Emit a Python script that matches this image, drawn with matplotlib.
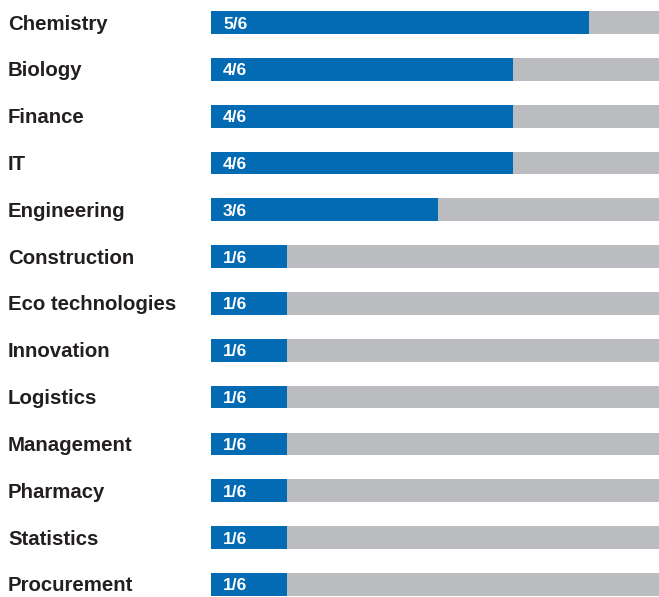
import matplotlib
matplotlib.use("Agg")
import matplotlib.pyplot as plt
from matplotlib import transforms

categories = ["Chemistry", "Biology", "Finance", "IT", "Engineering", "Construction",
              "Eco technologies", "Innovation", "Logistics", "Management", "Pharmacy",
              "Statistics", "Procurement"]
values = [5, 4, 4, 4, 3, 1, 1, 1, 1, 1, 1, 1, 1]
total = 6
value_labels = [f"{v}/{total}" for v in values]

BLUE = "#036ab4"
GREY = "#bbbcc0"
TEXT = "#231f20"

plt.rcParams['font.family'] = ['Liberation Sans', 'DejaVu Sans']

fig = plt.figure(figsize=(6.59, 5.97), dpi=100)
ax = fig.add_axes([211 / 659, 0, 1 - 211 / 659, 1])
ax.set_axis_off()

n = len(categories)
ys = list(range(n))
h = 0.485
ax.barh(ys, [total] * n, height=h, color=GREY, left=0)
ax.barh(ys, values, height=h, color=BLUE, left=0)

ax.set_xlim(0, (659 - 211) / 75.6)
ax.set_ylim((597 - 22.5) / 46.83, -22.5 / 46.83)

lab_tr = transforms.blended_transform_factory(fig.transFigure, ax.transData) + \
    transforms.ScaledTranslation(0, -7 / 100, fig.dpi_scale_trans)
for y, c in zip(ys, categories):
    ax.text(8 / 659, y, c, transform=lab_tr, ha='left', va='baseline',
            fontsize=14.7, fontweight='bold', color=TEXT)

val_tr = ax.transData + transforms.ScaledTranslation(12 / 100, -6 / 100, fig.dpi_scale_trans)
for y, t in zip(ys, value_labels):
    ax.text(0, y, t, transform=val_tr, ha='left', va='baseline',
            fontsize=12.5, fontweight='bold', color='white')

fig.savefig("out.png", dpi=100)
